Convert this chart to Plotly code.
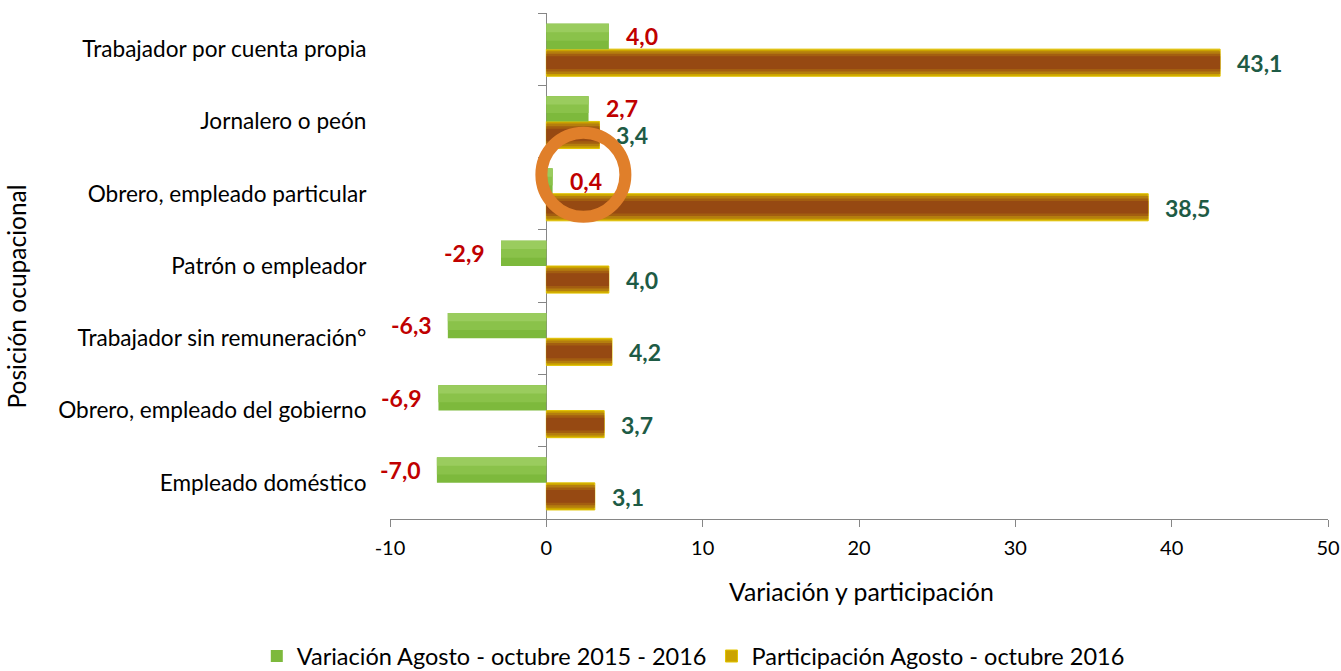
import plotly.graph_objects as go

categories = [
    "Trabajador por cuenta propia",
    "Jornalero o peón",
    "Obrero, empleado particular",
    "Patrón o empleador",
    "Trabajador sin remuneración°",
    "Obrero, empleado del gobierno",
    "Empleado doméstico",
]
variacion = [4.0, 2.7, 0.4, -2.9, -6.3, -6.9, -7.0]
participacion = [43.1, 3.4, 38.5, 4.0, 4.2, 3.7, 3.1]
x_ticks = [-10, 0, 10, 20, 30, 40, 50]

name_var = "Variación Agosto - octubre 2015 - 2016"
name_par = "Participación Agosto - octubre 2016"

FONT = "Lato, 'Open Sans', sans-serif"
fmt = lambda v: f"{v:.1f}".replace(".", ",")

fig = go.Figure()

# Participación (brown bars with golden edge) - layered to imitate gradient
fig.add_trace(go.Bar(y=categories, x=participacion, orientation="h", name=name_par,
                     offset=-0.375, width=0.375,
                     marker=dict(color="#CBA300", line=dict(color="#E2C400", width=1)),
                     legendrank=2, hoverinfo="x+y"))
fig.add_trace(go.Bar(y=categories, x=participacion, orientation="h", showlegend=False,
                     offset=-0.345, width=0.315,
                     marker=dict(color="#B47E0E", line=dict(width=0)), hoverinfo="skip"))
fig.add_trace(go.Bar(y=categories, x=participacion, orientation="h", showlegend=False,
                     offset=-0.31, width=0.245,
                     marker=dict(color="#A35E10", line=dict(width=0)), hoverinfo="skip"))
fig.add_trace(go.Bar(y=categories, x=participacion, orientation="h", showlegend=False,
                     offset=-0.275, width=0.175,
                     marker=dict(color="#964912", line=dict(width=0)), hoverinfo="skip"))

# Variación (green bars)
fig.add_trace(go.Bar(y=categories, x=variacion, orientation="h", name=name_var,
                     offset=0.0, width=0.35,
                     marker=dict(color="#7DB93C", line=dict(width=0)),
                     legendrank=1, hoverinfo="x+y"))
fig.add_trace(go.Bar(y=categories, x=variacion, orientation="h", showlegend=False,
                     offset=0.115, width=0.235,
                     marker=dict(color="#8AC24A", line=dict(width=0)), hoverinfo="skip"))
fig.add_trace(go.Bar(y=categories, x=variacion, orientation="h", showlegend=False,
                     offset=0.235, width=0.115,
                     marker=dict(color="#9ACC5E", line=dict(width=0)), hoverinfo="skip"))

annotations = []
for c, v in zip(categories, variacion):
    annotations.append(dict(x=v, y=c, xref="x", yref="y", text=f"<b>{fmt(v)}</b>",
                            showarrow=False, xanchor="left" if v >= 0 else "right",
                            xshift=15 if v >= 0 else -14, yshift=13,
                            font=dict(family=FONT, size=23, color="#C00000")))
for c, v in zip(categories, participacion):
    annotations.append(dict(x=v, y=c, xref="x", yref="y", text=f"<b>{fmt(v)}</b>",
                            showarrow=False, xanchor="left", xshift=15, yshift=-14,
                            font=dict(family=FONT, size=23, color="#1E5B45")))

annotations.append(dict(text="Posición ocupacional", textangle=-90, xref="paper", yref="paper",
                        x=-0.3985, y=0.44, showarrow=False, xanchor="center", yanchor="middle",
                        font=dict(family=FONT, size=24.5, color="#000000")))
annotations.append(dict(text="Variación y participación", xref="paper", yref="paper",
                        x=0.503, y=-0.144, showarrow=False, xanchor="center", yanchor="middle",
                        font=dict(family=FONT, size=24.8, color="#000000")))

# highlight circle around 0,4
shapes = [dict(type="circle", xref="x", yref="y", xsizemode="pixel", ysizemode="pixel",
               xanchor=2.37, yanchor=categories[2], x0=-42, x1=42, y0=-23, y1=61,
               line=dict(color="#E07F2A", width=12), fillcolor="rgba(0,0,0,0)")]

fig.update_layout(
    width=1341, height=671,
    margin=dict(l=390, r=13, t=13, b=152, autoexpand=False),
    paper_bgcolor="white", plot_bgcolor="white",
    barmode="overlay",
    font=dict(family=FONT, size=20, color="#000000"),
    annotations=annotations, shapes=shapes,
    legend=dict(orientation="h", xref="container", x=0.517, xanchor="center",
                yref="container", y=0.022, yanchor="middle",
                font=dict(family=FONT, size=23.5, color="#000000"),
                traceorder="normal", itemwidth=30),
    xaxis=dict(range=[-10, 50], tickvals=x_ticks, ticktext=[str(t) for t in x_ticks],
               automargin=False,
               showgrid=False, zeroline=True, zerolinecolor="#868686", zerolinewidth=1,
               showline=True, linecolor="#868686", linewidth=1,
               ticks="outside", ticklen=7, tickcolor="#868686", ticklabelstandoff=4,
               tickfont=dict(family=FONT, size=20, color="#000000")),
    yaxis=dict(categoryorder="array", categoryarray=categories[::-1], range=[-0.5, 6.5],
               automargin=False,
               showgrid=False, showline=False, ticks="outside", ticklen=18,
               tickcolor="rgba(0,0,0,0)",
               tickfont=dict(family=FONT, size=22.6, color="#000000")),
    yaxis2=dict(overlaying="y", anchor="free", position=(0 - (-10)) / 60, side="left",
                automargin=False,
                range=[-0.5, 6.5], tickvals=[-0.5 + i for i in range(8)],
                showticklabels=False, showgrid=False, zeroline=False, showline=False,
                ticks="outside", ticklen=8, tickcolor="#868686"),
)

# invisible trace to activate yaxis2
fig.add_trace(go.Scatter(x=[None], y=[None], yaxis="y2", showlegend=False, hoverinfo="skip"))

fig.write_html("out.html", config={"displayModeBar": False},
               post_script="document.body.style.margin='0px';")
